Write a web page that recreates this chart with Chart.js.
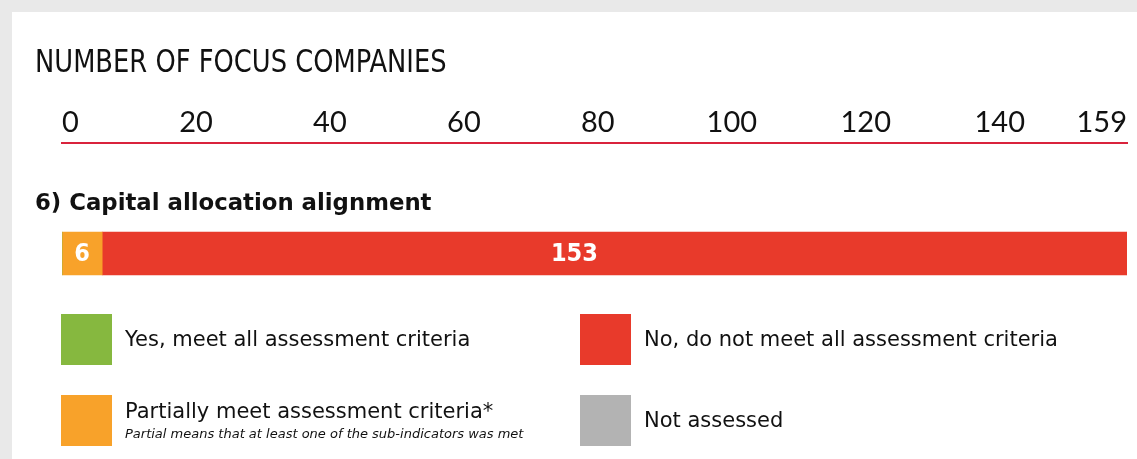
<!DOCTYPE html>
<html lang="en">

<head>
    <meta charset="UTF-8" />
    <meta name="viewport" content="width=device-width, initial-scale=1.0" />
    <title>Number of focus companies</title>
    <script src="https://cdn.jsdelivr.net/npm/chart.js@4.4.1/dist/chart.umd.min.js"></script>
    <style>
        html, body { margin: 0; padding: 0; background: #e9e9e9; width: 1137px; height: 459px; overflow: hidden; }
        .card { position: absolute; left: 12px; top: 12px; width: 1125px; height: 447px; background: #fff; }
        .card canvas { display: block; }
    </style>
</head>

<body>
    <div class="card">
        <canvas id="barChart" width="1125" height="447"></canvas>
    </div>

    <script>
        // Data
        const chartTitle = 'NUMBER OF FOCUS COMPANIES';
        const categories = ['6) Capital allocation alignment'];
        const seriesNames = [
            'Yes, meet all assessment criteria',
            'Partially meet assessment criteria*',
            'No, do not meet all assessment criteria',
            'Not assessed'
        ];
        const seriesNotes = ['', 'Partial means that at least one of the sub-indicators was met', '', ''];
        const seriesColors = ['#86b83f', '#f8a22a', '#e83a2b', '#b3b3b3'];
        const yesValues = [0];
        const partialValues = [6];
        const noValues = [153];
        const notAssessedValues = [0];
        const axisMax = 159;
        const tickValues = [0, 20, 40, 60, 80, 100, 120, 140, 159];

        const seriesValues = [yesValues, partialValues, noValues, notAssessedValues];

        document.addEventListener("DOMContentLoaded", function () {
            // title, category label, values in the bar and the 2x2 legend
            const extrasPlugin = {
                id: 'extras',
                afterDatasetsDraw(chart) {
                    const ctx = chart.ctx;
                    const xs = chart.scales.x;
                    ctx.save();
                    ctx.fillStyle = '#fff';
                    ctx.font = "bold 25px 'DejaVu Sans Condensed', 'DejaVu Sans', sans-serif";
                    ctx.textAlign = 'center';
                    ctx.textBaseline = 'middle';
                    chart.data.datasets.forEach((ds, i) => {
                        const meta = chart.getDatasetMeta(i);
                        ds.data.forEach((v, j) => {
                            if (!v) return;
                            ctx.fillText(String(v), xs.getPixelForValue(v / 2), meta.data[j].y + 1);
                        });
                    });
                    ctx.restore();
                },
                afterDraw(chart) {
                    const ctx = chart.ctx;
                    const area = chart.chartArea;
                    ctx.save();
                    ctx.fillStyle = '#111';
                    ctx.textAlign = 'left';
                    ctx.textBaseline = 'alphabetic';

                    // narrow headline: squeeze the condensed face a bit
                    ctx.save();
                    ctx.font = "32px 'Liberation Sans Narrow', 'DejaVu Sans Condensed', sans-serif";
                    ctx.translate(23, 60);
                    ctx.scale(0.895, 1);
                    ctx.fillText(chartTitle, 0, 0);
                    ctx.restore();

                    ctx.font = "bold 22.8px 'DejaVu Sans', sans-serif";
                    const bar = chart.getDatasetMeta(2).data[0];
                    chart.data.labels.forEach((lab) => {
                        ctx.fillText(lab, 23, bar.y - bar.height / 2 - 22);
                    });

                    // legend, filled column by column
                    const box = 51;
                    const colX = [area.left - 1, 568];
                    const rowY = [302, 383];
                    chart.data.datasets.forEach((ds, i) => {
                        const x = colX[Math.floor(i / 2)];
                        const y = rowY[i % 2];
                        ctx.fillStyle = ds.backgroundColor;
                        ctx.fillRect(x, y, box, box);
                        ctx.fillStyle = '#111';
                        ctx.font = "21px 'DejaVu Sans', sans-serif";
                        if (seriesNotes[i]) {
                            ctx.fillText(ds.label, x + 64, y + 23);
                            ctx.font = "italic 13px 'DejaVu Sans', sans-serif";
                            ctx.fillText(seriesNotes[i], x + 64, y + 43);
                        } else {
                            ctx.fillText(ds.label, x + 64, y + 32);
                        }
                    });
                    ctx.restore();
                }
            };

            const ctx = document.getElementById('barChart').getContext('2d');
            new Chart(ctx, {
                type: 'bar',
                data: {
                    labels: categories,
                    datasets: seriesNames.map((name, i) => ({
                        label: name,
                        data: seriesValues[i],
                        backgroundColor: seriesColors[i],
                        borderWidth: 0,
                        barThickness: 43
                    }))
                },
                options: {
                    indexAxis: 'y',
                    responsive: false,
                    animation: false,
                    events: [],
                    layout: {
                        padding: { left: 50, right: 10, top: 91, bottom: 95 }
                    },
                    scales: {
                        x: {
                            position: 'top',
                            stacked: true,
                            min: 0,
                            max: axisMax,
                            grid: { display: false, drawTicks: false },
                            border: { display: true, color: '#d9233c', width: 2 },
                            afterBuildTicks: (scale) => {
                                scale.ticks = tickValues.map(v => ({ value: v }));
                            },
                            afterFit: (scale) => { scale.height = 40; },
                            ticks: {
                                autoSkip: false,
                                maxRotation: 0,
                                align: 'inner',
                                padding: 3,
                                color: '#111',
                                font: { family: 'Lato', size: 29 }
                            }
                        },
                        y: {
                            stacked: true,
                            display: false
                        }
                    },
                    plugins: {
                        legend: { display: false },
                        tooltip: { enabled: false }
                    }
                },
                plugins: [extrasPlugin]
            });
        });
    </script>
</body>

</html>
